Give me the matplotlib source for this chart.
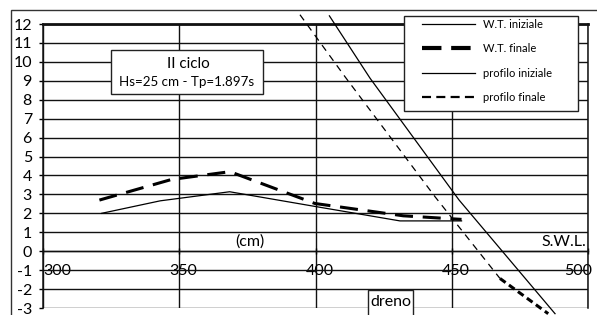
import matplotlib
matplotlib.use('Agg')
import matplotlib.pyplot as plt
from matplotlib.patches import Rectangle
from matplotlib.lines import Line2D
from matplotlib.transforms import ScaledTranslation

plt.rcParams['font.family'] = ['Lato', 'DejaVu Sans']
plt.rcParams['lines.scale_dashes'] = False
plt.rcParams['axes.unicode_minus'] = False

W, H = 597, 315

# ---- data ----
wt_iniz_x = [321.5, 343.0, 368.5, 400.4, 431.0, 453.6]
wt_iniz_y = [2.0, 2.66, 3.14, 2.35, 1.6, 1.6]
wt_fin_x = [320.7, 347.2, 368.6, 399.8, 432.2, 453.6]
wt_fin_y = [2.7, 3.79, 4.2, 2.52, 1.87, 1.68]
prof_iniz_x = [405.1, 420.0, 452.7, 487.9]
prof_iniz_y = [12.43, 9.14, 2.70, -3.30]
prof_fin_x = [394.3, 410.8, 443.9, 467.7]
prof_fin_y = [12.49, 9.22, 2.87, -1.44]
prof_fin_tail_x = [467.7, 485.4]
prof_fin_tail_y = [-1.44, -3.30]

x_ticks = [300, 350, 400, 450, 500]
y_ticks = list(range(-3, 13))
legend_labels = ['W.T. iniziale', 'W.T. finale', 'profilo iniziale', 'profilo finale']


def fx(x):
    return x / W


def fy(y):
    return 1 - y / H


fig = plt.figure(figsize=(W / 100, H / 100), dpi=100)
ax = fig.add_axes([fx(43), fy(308), (588 - 43) / W, (308 - 24) / H])
ax.set_xlim(300, 500)
ax.set_ylim(-3, 12)

col = '#111111'
ax.set_xticks(x_ticks)
ax.set_yticks(y_ticks)
ax.grid(True, color=col, lw=1.0)
ax.set_axisbelow(True)

for s in ['left', 'right']:
    ax.spines[s].set_linewidth(1.1)
    ax.spines[s].set_color(col)
ax.spines['top'].set_linewidth(2.0)
ax.spines['top'].set_color(col)
ax.spines['bottom'].set_position(('data', 0))
ax.spines['bottom'].set_linewidth(1.0)
ax.spines['bottom'].set_color(col)

ax.tick_params(axis='y', direction='out', length=3, width=1, pad=5, labelsize=11.5)
ax.tick_params(axis='x', direction='inout', length=4, width=1, pad=7, labelsize=11.5)

labels = ax.get_xticklabels()
for i, lab in enumerate(labels):
    if i == 0:
        lab.set_ha('left')
    elif i == len(labels) - 1:
        lab.set_ha('right')
        lab.set_transform(lab.get_transform() + ScaledTranslation(4 / 100, 0, fig.dpi_scale_trans))
    else:
        lab.set_transform(lab.get_transform() + ScaledTranslation(4 / 100, 0, fig.dpi_scale_trans))

# ---- series ----
ax.plot(wt_iniz_x, wt_iniz_y, color='k', lw=0.9, zorder=3)
ax.plot(wt_fin_x, wt_fin_y, color='k', lw=2.2, dashes=(13, 7), zorder=3)
ax.plot(prof_iniz_x, prof_iniz_y, color='k', lw=0.9, zorder=3, clip_on=False)
ax.plot(prof_fin_x, prof_fin_y, color='k', lw=0.9, dashes=(5, 4), zorder=3, clip_on=False)
ax.plot(prof_fin_tail_x, prof_fin_tail_y, color='k', lw=2.2, dashes=(5, 3), zorder=3, clip_on=False)

# ---- text on axes ----
ax.text(376, 0.12, '(cm)', fontsize=11.5, ha='center', va='bottom')
ax.text(499.5, 0.12, 'S.W.L.', fontsize=11.5, ha='right', va='bottom')

# ---- outer frame ----
fig.add_artist(Rectangle((fx(11), -0.5), 2, fy(10) + 0.5, transform=fig.transFigure,
                         fill=False, ec='#333333', lw=1.0, zorder=0))

# ---- annotation box ----
fig.add_artist(Rectangle((fx(111), fy(94)), (263 - 111) / W, (94 - 50) / H,
                         transform=fig.transFigure, fc='white', ec='#222222', lw=1.0, zorder=5))
fig.text(fx(188), fy(64), 'II ciclo', fontsize=11, ha='center', va='center', zorder=6)
fig.text(fx(187), fy(82), 'Hs=25 cm - Tp=1.897s', fontsize=9.6, ha='center', va='center', zorder=6)

# ---- dreno box ----
fig.add_artist(Rectangle((fx(368), fy(340)), (413 - 368) / W, (340 - 290) / H,
                         transform=fig.transFigure, fc='white', ec='#222222', lw=1.0, zorder=5))
fig.text(fx(391), fy(302), 'dreno', fontsize=11.5, ha='center', va='center', zorder=6)

# ---- legend ----
fig.add_artist(Rectangle((fx(404), fy(111)), (578 - 404) / W, (111 - 16) / H,
                         transform=fig.transFigure, fc='white', ec='#222222', lw=1.0, zorder=5))
handles = [
    Line2D([], [], color='k', lw=0.9),
    Line2D([], [], color='k', lw=3.0, dashes=(14, 7)),
    Line2D([], [], color='k', lw=0.9),
    Line2D([], [], color='k', lw=1.6, dashes=(6.5, 3.8)),
]
leg = fig.legend(handles, legend_labels, loc='upper left',
                 bbox_to_anchor=(fx(422), fy(19)), bbox_transform=fig.transFigure,
                 frameon=False, fontsize=8, handlelength=4.8, handletextpad=0.7,
                 labelspacing=1.2, borderpad=0.0, borderaxespad=0.0)
leg.set_zorder(6)

fig.savefig('out.png', dpi=100)
